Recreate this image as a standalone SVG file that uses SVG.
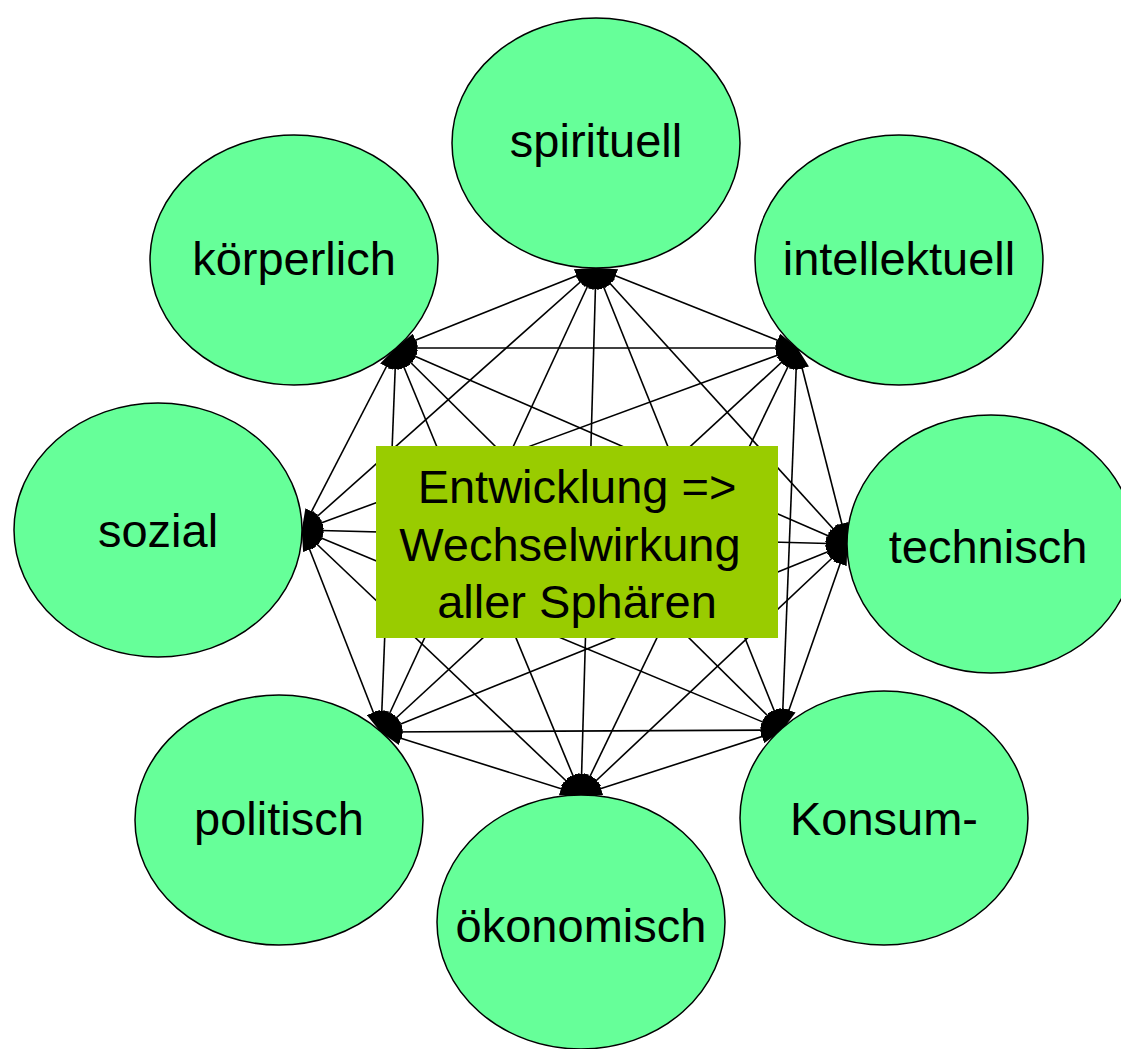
<svg xmlns="http://www.w3.org/2000/svg" width="1121" height="1049" viewBox="0 0 1121 1049">
<style>
.n ellipse{fill:#66FF99;stroke:#000;stroke-width:1.5}
text{font-family:"Liberation Sans",Arial,sans-serif;font-size:47px;fill:#000;text-anchor:middle}
#connectors line{stroke:#000;stroke-width:1.6;marker-start:url(#ah);marker-end:url(#ah)}
</style>
<defs>
<marker id="ah" markerUnits="userSpaceOnUse" markerWidth="22" markerHeight="14" refX="21" refY="7" orient="auto-start-reverse" viewBox="0 0 22 14">
<path d="M0,0 L22,7 L0,14 z" fill="#000"/>
</marker>
</defs>
<rect width="1121" height="1049" fill="#fff"/>
<g id="connectors">
<line x1="596" y1="268" x2="396" y2="348"/>
<line x1="596" y1="268" x2="797" y2="348"/>
<line x1="596" y1="268" x2="302" y2="530"/>
<line x1="596" y1="268" x2="847" y2="544"/>
<line x1="596" y1="268" x2="381" y2="732"/>
<line x1="596" y1="268" x2="782" y2="730"/>
<line x1="596" y1="268" x2="581" y2="795"/>
<line x1="396" y1="348" x2="797" y2="348"/>
<line x1="396" y1="348" x2="302" y2="530"/>
<line x1="396" y1="348" x2="847" y2="544"/>
<line x1="396" y1="348" x2="381" y2="732"/>
<line x1="396" y1="348" x2="782" y2="730"/>
<line x1="396" y1="348" x2="581" y2="795"/>
<line x1="797" y1="348" x2="302" y2="530"/>
<line x1="797" y1="348" x2="847" y2="544"/>
<line x1="797" y1="348" x2="381" y2="732"/>
<line x1="797" y1="348" x2="782" y2="730"/>
<line x1="797" y1="348" x2="581" y2="795"/>
<line x1="302" y1="530" x2="847" y2="544"/>
<line x1="302" y1="530" x2="381" y2="732"/>
<line x1="302" y1="530" x2="782" y2="730"/>
<line x1="302" y1="530" x2="581" y2="795"/>
<line x1="847" y1="544" x2="381" y2="732"/>
<line x1="847" y1="544" x2="782" y2="730"/>
<line x1="847" y1="544" x2="581" y2="795"/>
<line x1="381" y1="732" x2="782" y2="730"/>
<line x1="381" y1="732" x2="581" y2="795"/>
<line x1="782" y1="730" x2="581" y2="795"/>
</g>
<g id="center">
<rect x="376" y="446" width="402" height="192" fill="#99CC00"/>
<text x="577" y="503">Entwicklung =&gt;</text>
<text x="570" y="561">Wechselwirkung</text>
<text x="577" y="618">aller Sphären</text>
</g>
<g id="spirituell" class="n"><ellipse cx="596" cy="143" rx="144" ry="125"/><text x="596" y="157">spirituell</text></g>
<g id="koerperlich" class="n"><ellipse cx="294" cy="260" rx="144" ry="125"/><text x="294" y="275">körperlich</text></g>
<g id="intellektuell" class="n"><ellipse cx="899" cy="260" rx="144" ry="125"/><text x="899" y="275">intellektuell</text></g>
<g id="sozial" class="n"><ellipse cx="158" cy="530" rx="144" ry="127"/><text x="158" y="547">sozial</text></g>
<g id="technisch" class="n"><ellipse cx="991" cy="544" rx="144" ry="129"/><text x="988" y="563">technisch</text></g>
<g id="politisch" class="n"><ellipse cx="279" cy="820" rx="144" ry="125"/><text x="279" y="835">politisch</text></g>
<g id="konsum" class="n"><ellipse cx="884" cy="818" rx="144" ry="127"/><text x="884" y="835">Konsum-</text></g>
<g id="oekonomisch" class="n"><ellipse cx="581" cy="922" rx="144" ry="127"/><text x="581" y="942">ökonomisch</text></g>
</svg>
